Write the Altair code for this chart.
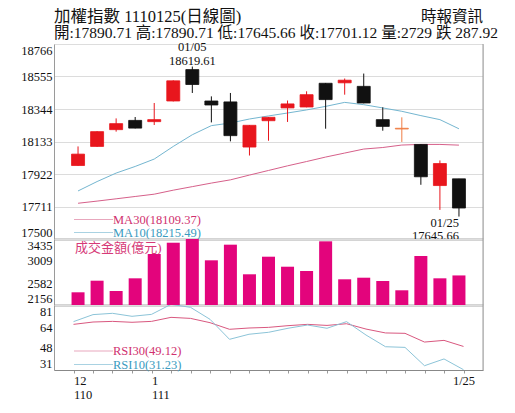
import altair as alt
import pandas as pd

# ---------------- data ----------------
dates = ["12/27", "12/28", "12/29", "12/30", "01/03", "01/04", "01/05", "01/06", "01/07", "01/10",
         "01/11", "01/12", "01/13", "01/14", "01/17", "01/18", "01/19", "01/20", "01/21", "01/24", "01/25"]
opens = [17977, 18101, 18210, 18270, 18262, 18396, 18600, 18396, 18390, 18097,
         18268, 18351, 18357, 18511, 18514, 18491, 18275, 18214, 18114, 17847, 17890.71]
highs = [18101, 18200, 18283, 18292, 18383, 18530, 18619.61, 18426, 18448, 18240,
         18292, 18399, 18459, 18513, 18542, 18574, 18355, 18290, 18116, 18010, 17890.71]
lows = [17975, 18098, 18197, 18218, 18240, 18393, 18448, 18257, 18134, 18042,
        18138, 18260, 18355, 18216, 18437, 18381, 18203, 18130, 17852, 17689, 17645.66]
closes = [18051, 18197, 18249, 18220, 18275, 18527, 18503, 18370, 18171, 18238,
          18290, 18377, 18437, 18405, 18531, 18383, 18231, 18219, 17904, 17990, 17701.12]
volumes = [2402, 2627, 2427, 2673, 3144, 3363, 3435, 3022, 3325, 2751,
           3092, 2898, 2815, 3390, 2654, 2685, 2621, 2441, 3106, 2673, 2729]
ma10 = [17812, 17873, 17928, 17971, 18019, 18101, 18177, 18236, 18253, 18279,
        18299, 18318, 18338, 18361, 18387, 18372, 18351, 18329, 18301, 18275, 18215.49]
ma30 = [17732, 17746, 17761, 17776, 17791, 17817, 17840, 17863, 17884, 17915,
        17945, 17975, 18003, 18032, 18058, 18084, 18094, 18110, 18114, 18114, 18109.37]
rsi10 = [68.2, 73.6, 74.6, 72.3, 73.8, 81.5, 79.2, 70.0, 54.6, 58.5,
         60.0, 63.1, 65.6, 63.1, 68.2, 57.9, 48.9, 48.4, 34.3, 39.5, 31.23]
rsi30 = [66.1, 67.9, 68.4, 67.7, 68.4, 71.5, 70.7, 67.4, 62.3, 63.3,
         63.8, 65.1, 66.1, 65.3, 66.6, 62.5, 59.5, 59.2, 52.5, 53.8, 49.12]

price_ticks = [17500, 17711, 17922, 18133, 18344, 18555, 18766]
vol_ticks = [2156, 2582, 3009, 3435]
rsi_ticks = [31, 48, 64, 81]

title_text = "加權指數 1110125(日線圖)"
source_text = "時報資訊"
info_text = "開:17890.71 高:17890.71 低:17645.66 收:17701.12 量:2729 跌 287.92"
ma30_label = "MA30(18109.37)"
ma10_label = "MA10(18215.49)"
vol_label = "成交金額(億元)"
rsi30_label = "RSI30(49.12)"
rsi10_label = "RSI10(31.23)"

# ---------------- styles ----------------
FONT = "'Liberation Serif', 'Noto Sans CJK TC', serif"
RED = "#e8161d"
BLACK = "#111111"
DOJI = "#ef7d45"
MA10_C = "#74b6d0"
MA30_C = "#d6608a"
MA10_T = "#3a9bc0"
MA30_T = "#d0306e"
VOL_C = "#e3047c"
BORDER = "#9a9a9a"

W = 429
H1 = 195
H2 = 66
H3 = 65

kind = []
for o, c in zip(opens, closes):
    if abs(c - o) < 8:
        kind.append("doji")
    elif c > o:
        kind.append("up")
    else:
        kind.append("down")

df = pd.DataFrame({
    "i": list(range(len(dates))), "date": dates, "open": opens, "high": highs,
    "low": lows, "close": closes, "kind": kind, "vol": volumes,
    "ma10": ma10, "ma30": ma30, "rsi10": rsi10, "rsi30": rsi30,
})

xscale = alt.Scale(domain=[-1, 21], nice=False, zero=False)
color_scale = alt.Scale(domain=["up", "down", "doji"], range=[RED, BLACK, DOJI])
one = pd.DataFrame({"a": [0]})


def sep_axis(width=2):
    return alt.Axis(labels=False, ticks=False, grid=False, title=None,
                    domainColor="#aaaaaa", domainWidth=width)


def yaxis(values, grid=False):
    kw = dict(values=values, title=None, grid=grid, tickSize=0, labelPadding=2,
              labelFlush=True, domainColor=BORDER, minExtent=45, labelFont=FONT,
              labelFontSize=12.5, labelColor="#111111", labelOverlap=False, format="d")
    if grid:
        kw["gridColor"] = "#dcdcdc"
        kw["gridOpacity"] = {"condition": {"test": "datum.value >= 18766", "value": 0}, "value": 1}
    return alt.Axis(**kw)


def hline(x1, x2, y, color):
    return alt.Chart(one).mark_rule(color=color, strokeWidth=1).encode(
        x=alt.value(x1), x2=alt.value(x2), y=alt.value(y))


def label(text, x, y, color, size, align="left"):
    return alt.Chart(pd.DataFrame({"t": [text]})).mark_text(
        align=align, baseline="middle", font=FONT, fontSize=size, color=color
    ).encode(text="t:N", x=alt.value(x), y=alt.value(y))


def right_border(h):
    return alt.Chart(one).mark_rule(color=BORDER, strokeWidth=1).encode(
        x=alt.value(W), y=alt.value(0), y2=alt.value(h))


base = alt.Chart(df)

# ---------------- main panel ----------------
pscale = alt.Scale(domain=[17500, 18766], nice=False, zero=False)
paxis = yaxis(price_ticks, grid=True)
xa = alt.X("i:Q", scale=xscale, axis=sep_axis())

ma10_line = base.mark_line(color=MA10_C, strokeWidth=1).encode(
    x=xa, y=alt.Y("ma10:Q", scale=pscale, axis=paxis))
ma30_line = base.mark_line(color=MA30_C, strokeWidth=1).encode(
    x=xa, y=alt.Y("ma30:Q", scale=pscale, axis=paxis))
wick = base.mark_rule(strokeWidth=1).encode(
    x=xa, y=alt.Y("low:Q", scale=pscale, axis=paxis), y2="high:Q",
    color=alt.Color("kind:N", scale=color_scale, legend=None))
body = base.mark_bar(size=13, strokeWidth=0.8).encode(
    x=xa, y=alt.Y("open:Q", scale=pscale, axis=paxis), y2="close:Q",
    color=alt.Color("kind:N", scale=color_scale, legend=None),
    stroke=alt.Stroke("kind:N", scale=color_scale, legend=None))

hi_date = base.transform_filter("datum.i == 6").mark_text(
    font=FONT, fontSize=12.5, color="#111111", dy=-20, align="center", baseline="middle"
).encode(x=xa, y=alt.Y("high:Q", scale=pscale, axis=paxis), text="date:N")
hi_val = base.transform_filter("datum.i == 6").mark_text(
    font=FONT, fontSize=12.5, color="#111111", dy=-6, align="center", baseline="middle"
).encode(x=xa, y=alt.Y("high:Q", scale=pscale, axis=paxis), text=alt.Text("high:Q", format=".2f"))
lo_date = base.transform_filter("datum.i == 20").mark_text(
    font=FONT, fontSize=12.5, color="#111111", dy=6, align="right", baseline="middle"
).encode(x=xa, y=alt.Y("low:Q", scale=pscale, axis=paxis), text="date:N")
lo_val = base.transform_filter("datum.i == 20").mark_text(
    font=FONT, fontSize=12.5, color="#111111", dy=19, align="right", baseline="middle"
).encode(x=xa, y=alt.Y("low:Q", scale=pscale, axis=paxis), text=alt.Text("low:Q", format=".2f"))

main = alt.layer(
    ma10_line, ma30_line, wick, body, hi_date, hi_val, lo_date, lo_val,
    hline(20, 59, 175.5, "#e8a7bd"), label(ma30_label, 59, 175.5, MA30_T, 12.5),
    hline(20, 59, 188.5, "#a9d2e2"), label(ma10_label, 59, 188.5, MA10_T, 12.5),
    label(title_text, 0, -27.5, "#111111", 16.5),
    label(source_text, W, -27.5, "#111111", 15.5, align="right"),
    label(info_text, 0, -11, "#111111", 15.5),
    right_border(H1),
).properties(width=W, height=H1)

# ---------------- volume panel ----------------
vscale = alt.Scale(domain=[2156, 3435], nice=False, zero=False)
vol = base.mark_bar(size=13, color=VOL_C, clip=True).encode(
    x=alt.X("i:Q", scale=xscale, axis=sep_axis()),
    y=alt.Y("vol:Q", scale=vscale, axis=yaxis(vol_ticks)),
    y2=alt.datum(2156))
vol_panel = alt.layer(
    vol, label(vol_label, 21, 9, "#d63a78", 13), right_border(H2)
).properties(width=W, height=H2)

# ---------------- RSI panel ----------------
rscale = alt.Scale(domain=[31, 81], nice=False, zero=False)
bottom_axis = alt.Axis(
    values=list(range(len(dates))), title=None, grid=False, tickSize=3, tickColor=BORDER,
    domainColor="#888888", domainWidth=1.2, labelFont=FONT, labelFontSize=12.5,
    labelColor="#111111", labelPadding=1, labelLineHeight=14, labelBaseline="top",
    labelFlush=False, labelOverlap=False,
    labelAlign={"condition": {"test": "datum.value >= 20", "value": "center"}, "value": "left"},
    labelExpr="datum.value == 0 ? ['12', '110'] : datum.value == 4 ? ['1', '111'] : datum.value == 20 ? '1/25' : ''")
xb = alt.X("i:Q", scale=xscale, axis=bottom_axis)
r30 = base.mark_line(color="#d9587f", strokeWidth=1, clip=True).encode(
    x=xb, y=alt.Y("rsi30:Q", scale=rscale, axis=yaxis(rsi_ticks)))
r10 = base.mark_line(color="#8cc4d8", strokeWidth=1, clip=True).encode(
    x=xb, y=alt.Y("rsi10:Q", scale=rscale, axis=yaxis(rsi_ticks)))
rsi_panel = alt.layer(
    r30, r10,
    hline(20, 59, 46, "#e8a7bd"), label(rsi30_label, 59, 46, MA30_T, 12.5),
    hline(20, 59, 59.5, "#a9d2e2"), label(rsi10_label, 59, 59.5, MA10_T, 12.5),
    right_border(H3),
).properties(width=W, height=H3)

chart = alt.vconcat(main, vol_panel, rsi_panel, spacing=0, bounds="flush").configure_view(
    stroke=None
).configure(padding={"left": 0, "top": 0, "right": 0, "bottom": 0}, background="white")

chart.save("out.html", embed_options={"renderer": "svg", "actions": False})
